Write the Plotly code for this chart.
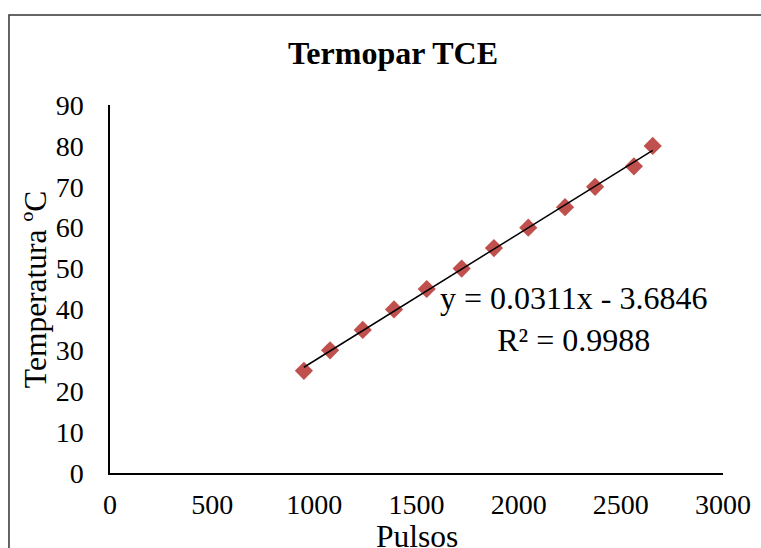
import numpy as np
import plotly.graph_objects as go

pulsos = [949, 1077, 1237, 1390, 1550, 1721, 1879, 2047, 2227, 2374, 2564, 2656]
temperatura = [25, 30, 35, 40, 45, 50, 55, 60, 65, 70, 75, 80]
x_ticks = [0, 500, 1000, 1500, 2000, 2500, 3000]
y_ticks = [0, 10, 20, 30, 40, 50, 60, 70, 80, 90]
eq_text = "y = 0.0311x - 3.6846<br>R² = 0.9988"

FONT = "Liberation Serif, Times New Roman, serif"

slope, intercept = np.polyfit(pulsos, temperatura, 1)
tx = np.array([min(pulsos), max(pulsos)])
ty = slope * tx + intercept

fig = go.Figure()
fig.add_trace(go.Scatter(x=pulsos, y=temperatura, mode="markers",
                         marker=dict(symbol="diamond", size=14, color="#C0504D"),
                         showlegend=False))
fig.add_trace(go.Scatter(x=tx, y=ty, mode="lines",
                         line=dict(color="black", width=1.5), showlegend=False))

fig.add_annotation(x=2271, y=37.6, xref="x", yref="y", text=eq_text, showarrow=False,
                   align="center", font=dict(family=FONT, size=32, color="black"))

# axis titles
fig.add_annotation(x=0.5, y=-0.1739, xref="paper", yref="paper", text="Pulsos",
                   showarrow=False, xanchor="center", yanchor="middle",
                   font=dict(family=FONT, size=31.5, color="black"))
fig.add_annotation(x=-0.1223, y=0.497, xref="paper", yref="paper", text="Temperatura ºC",
                   showarrow=False, xanchor="center", yanchor="middle", textangle=-90,
                   font=dict(family=FONT, size=31.5, color="black"))

fig.add_shape(type="rect", xref="paper", yref="paper",
              x0=-0.1648, x1=1.08, y0=-0.3, y1=1.2446,
              line=dict(color="#333333", width=1.5), layer="below")

fig.update_layout(
    width=761, height=548,
    margin=dict(l=110, r=38, t=105, b=75),
    paper_bgcolor="white", plot_bgcolor="white",
    title=dict(text="<b>Termopar TCE</b>", x=393/761, xanchor="center",
               xref="container",
               y=1 - 53/548, yanchor="middle", yref="container",
               font=dict(family=FONT, size=32, color="black")),
    font=dict(family=FONT, color="black"),
)
fig.update_xaxes(range=[0, 3000], tickvals=x_ticks, showgrid=False, zeroline=False,
                 showline=True, linecolor="black", linewidth=1.5, ticks="",
                 ticklabelstandoff=6, automargin=False,
                 tickfont=dict(family=FONT, size=28, color="black"))
fig.update_yaxes(range=[0, 90], tickvals=y_ticks, showgrid=False, zeroline=False,
                 showline=True, linecolor="black", linewidth=1.5, ticks="",
                 ticklabelstandoff=19, automargin=False,
                 tickfont=dict(family=FONT, size=28, color="black"))

fig.write_html("out.html", config={"displayModeBar": False},
               post_script="document.body.style.margin='0';document.body.style.overflow='hidden';")
